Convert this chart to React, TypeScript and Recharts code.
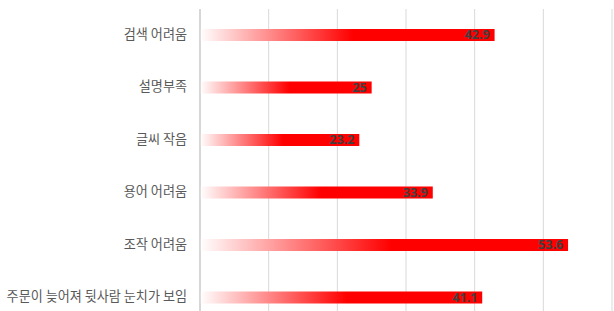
import React from "react";
import { BarChart, Bar, XAxis, YAxis, CartesianGrid, LabelList } from "recharts";

const categories = [
  "검색 어려움",
  "설명부족",
  "글씨 작음",
  "용어 어려움",
  "조작 어려움",
  "주문이 늦어져 뒷사람 눈치가 보임",
];
const values = [42.9, 25, 23.2, 33.9, 53.6, 41.1];
const xTicks = [0, 10, 20, 30, 40, 50, 60];

const data = categories.map((c, i) => ({ name: c, value: values[i] }));

const renderLabel = (props: any) => {
  const { x, y, width, height, value } = props;
  return (
    <text
      x={Number(x) + Number(width) - 5}
      y={Number(y) + Number(height) / 2 + 1}
      textAnchor="end"
      dominantBaseline="middle"
      fontSize={12.5}
      fontWeight="bold"
      fill="#404040"
      fontFamily="'Noto Sans', 'Noto Sans CJK KR', sans-serif"
    >
      {value}
    </text>
  );
};

const renderTick = (props: any) => {
  const { x, y, payload } = props;
  return (
    <text
      x={Number(x)}
      y={Number(y)}
      textAnchor="end"
      dominantBaseline="middle"
      fontSize={13.1}
      fill="#595959"
      fontFamily="'Noto Sans CJK KR', sans-serif"
    >
      {payload.value}
    </text>
  );
};

export default function App() {
  return (
    <div style={{ position: "absolute", left: 0, top: 0, width: 614, height: 311, overflow: "hidden", background: "#fff" }}>
      <BarChart
        width={614}
        height={330}
        data={data}
        layout="vertical"
        margin={{ top: 9, right: 2, bottom: 6, left: 0 }}
        barSize={12}
      >
        <defs>
          <linearGradient id="redGrad" x1="0" y1="0" x2="1" y2="0">
            <stop offset="0" stopColor="#ffffff" />
            <stop offset="0.52" stopColor="#ff0000" />
            <stop offset="1" stopColor="#ff0000" />
          </linearGradient>
        </defs>
        <CartesianGrid horizontal={false} vertical={true} stroke="#d9d9d9" strokeWidth={1} />
        <XAxis type="number" domain={[0, 60]} ticks={xTicks} hide />
        <YAxis
          type="category"
          dataKey="name"
          width={200}
          tickLine={false}
          axisLine={{ stroke: "#d0d0d0", strokeWidth: 1.5 }}
          tickMargin={7}
          tick={renderTick}
          interval={0}
        />
        <Bar dataKey="value" fill="url(#redGrad)" isAnimationActive={false}>
          <LabelList dataKey="value" content={renderLabel} />
        </Bar>
      </BarChart>
    </div>
  );
}
